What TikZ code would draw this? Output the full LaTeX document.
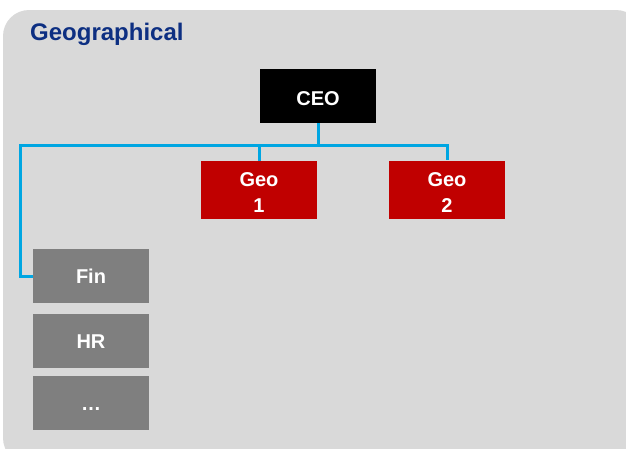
\documentclass[tikz,border=0pt]{standalone}
\usepackage{fontspec}
\setmainfont{Liberation Sans}
\definecolor{panelgray}{HTML}{D9D9D9}
\definecolor{boxred}{HTML}{C00000}
\definecolor{boxgray}{HTML}{7F7F7F}
\definecolor{linkblue}{HTML}{00A6E2}
\definecolor{titleblue}{HTML}{0D2F82}
\tikzset{
  unitbox/.style={minimum width=116pt, minimum height=54pt, inner sep=0pt},
  ceobox/.style={unitbox, fill=black},
  geobox/.style={unitbox, fill=boxred, minimum height=58pt},
  funcbox/.style={unitbox, fill=boxgray},
  boxtext/.style={inner sep=0pt, text=white, align=center,
    font=\fontsize{20pt}{26pt}\selectfont\bfseries},
  link/.style={draw=linkblue, line width=3pt, line join=miter},
}
\begin{document}
\begin{tikzpicture}[x=1pt, y=-1pt]
  \useasboundingbox (0,0) rectangle (626,448);
  \clip (0,0) rectangle (626,448);
  % grey panel
  \fill[panelgray, rounded corners=26pt] (3,10) rectangle (642,464);
  \node[anchor=base west, inner sep=0pt, text=titleblue,
        font=\fontsize{24pt}{28pt}\selectfont\bfseries] (title) at (30,40) {Geographical};

  % boxes
  \node[ceobox]  (ceo)  at (318,96)    {};
  \node[geobox]  (geo1) at (259,190)   {};
  \node[geobox]  (geo2) at (447,189.5) {};
  \node[funcbox] (fin)  at (91,276)    {};
  \node[funcbox] (hr)   at (91,341)    {};
  \node[funcbox] (more) at (91,403)    {};

  % box captions (base = baseline of the last line)
  \node[boxtext, anchor=base] (ceotext)  at (318,105) {CEO};
  \node[boxtext, anchor=base] (geo1text) at (259,212) {Geo\\1};
  \node[boxtext, anchor=base] (geo2text) at (447,212) {Geo\\2};
  \node[boxtext, anchor=base] (fintext)  at (91,283)  {Fin};
  \node[boxtext, anchor=base] (hrtext)   at (91,348)  {HR};
  \node[boxtext, anchor=base] (moretext) at (91,410)  {…};

  % connectors
  \coordinate (busleft) at (20,145);
  \draw[link] (ceo.south) |- (busleft) |- (fin.west);
  \draw[link] (ceo.south) |- (geo2.north |- busleft) -- (geo2.north);
  \draw[link] (geo1.north |- busleft) -- (geo1.north);
\end{tikzpicture}
\end{document}
